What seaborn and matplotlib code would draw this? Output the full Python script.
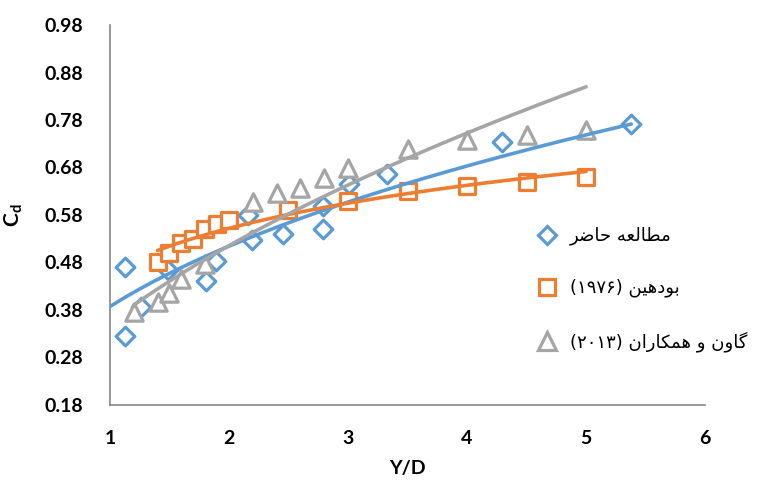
import numpy as np
import matplotlib
matplotlib.use("Agg")
import matplotlib.pyplot as plt
from matplotlib.lines import Line2D
import seaborn as sns

# ---------------- data ----------------
present_x = [1.13, 1.13, 1.26, 1.49, 1.81, 1.89, 2.16, 2.19, 2.45, 2.79, 2.79, 3.01, 3.33, 4.29, 5.38]
present_y = [0.470, 0.325, 0.386, 0.464, 0.441, 0.483, 0.580, 0.527, 0.540, 0.599, 0.550, 0.645, 0.666, 0.734, 0.772]

bodhaine_x = [1.4, 1.5, 1.6, 1.7, 1.8, 1.9, 2.0, 2.5, 3.0, 3.5, 4.0, 4.5, 5.0]
bodhaine_y = [0.48, 0.50, 0.52, 0.53, 0.55, 0.56, 0.57, 0.59, 0.61, 0.63, 0.64, 0.65, 0.66]

gaon_x = [1.2, 1.4, 1.5, 1.6, 1.8, 2.2, 2.4, 2.6, 2.8, 3.0, 3.5, 4.0, 4.5, 5.0]
gaon_y = [0.376, 0.397, 0.415, 0.445, 0.477, 0.608, 0.627, 0.636, 0.657, 0.678, 0.718, 0.738, 0.748, 0.759]

# trendline parameters
present_trend = ("power", 0.387, 0.41, 1.0, 5.38)   # y = a*x^b
bodhaine_trend = ("log", 0.4613, 0.1307, 1.4, 5.0)   # y = a + b*ln(x)
gaon_trend = ("power", 0.353, 0.546, 1.2, 5.0)

labels = ["مطالعه حاضر", "بودهین (۱۹۷۶)", "گاون و همکاران (۲۰۱۳)"]
x_ticks = [1, 2, 3, 4, 5, 6]
y_ticks = [0.18, 0.28, 0.38, 0.48, 0.58, 0.68, 0.78, 0.88, 0.98]

BLUE, ORANGE, GRAY = "#5B9BD5", "#ED7D31", "#A5A5A5"

# ---------------- minimal Persian shaping for matplotlib ----------------
FORMS = {
    'ا': ('\uFE8D', '\uFE8E', None, None),
    'ب': ('\uFE8F', '\uFE90', '\uFE91', '\uFE92'),
    'ح': ('\uFEA1', '\uFEA2', '\uFEA3', '\uFEA4'),
    'د': ('\uFEA9', '\uFEAA', None, None),
    'ر': ('\uFEAD', '\uFEAE', None, None),
    'ض': ('\uFEBD', '\uFEBE', '\uFEBF', '\uFEC0'),
    'ط': ('\uFEC1', '\uFEC2', '\uFEC3', '\uFEC4'),
    'ع': ('\uFEC9', '\uFECA', '\uFECB', '\uFECC'),
    'ل': ('\uFEDD', '\uFEDE', '\uFEDF', '\uFEE0'),
    'م': ('\uFEE1', '\uFEE2', '\uFEE3', '\uFEE4'),
    'ن': ('\uFEE5', '\uFEE6', '\uFEE7', '\uFEE8'),
    'ه': ('\uFEE9', '\uFEEA', '\uFEEB', '\uFEEC'),
    'و': ('\uFEED', '\uFEEE', None, None),
    'ی': ('\uFEF1', '\uFEF2', '\uFEF3', '\uFEF4'),
    'ک': ('\uFB8E', '\uFB8F', '\uFB90', '\uFB91'),
    'گ': ('\uFB92', '\uFB93', '\uFB94', '\uFB95'),
}


def shape_word(w):
    out = []
    for i, ch in enumerate(w):
        if ch not in FORMS:
            out.append(ch)
            continue
        prev = w[i - 1] if i > 0 else None
        nxt = w[i + 1] if i + 1 < len(w) else None
        jp = prev in FORMS and FORMS[prev][2] is not None
        jn = nxt in FORMS and FORMS[ch][2] is not None
        iso, fin, ini, med = FORMS[ch]
        if jp and jn:
            out.append(med)
        elif jp:
            out.append(fin)
        elif jn:
            out.append(ini)
        else:
            out.append(iso)
    return "".join(out)


def visual(text):
    toks = []
    for t in text.split(" "):
        if any(c in FORMS for c in t):
            toks.append(shape_word(t)[::-1])
        else:
            toks.append(t)
    return " ".join(toks[::-1])


def trend(params):
    kind, a, b, lo, hi = params
    xs = np.linspace(lo, hi, 200)
    ys = a * xs ** b if kind == "power" else a + b * np.log(xs)
    return xs, ys


# ---------------- figure ----------------
sns.set_theme(style="white")
plt.rcParams["font.family"] = ["Lato", "DejaVu Sans"]
plt.rcParams["mathtext.fontset"] = "custom"
plt.rcParams["mathtext.rm"] = "Lato"
plt.rcParams["mathtext.bf"] = "Lato:bold"
plt.rcParams["text.color"] = "black"
plt.rcParams["axes.labelcolor"] = "black"
plt.rcParams["xtick.color"] = "black"
plt.rcParams["ytick.color"] = "black"

fig, ax = plt.subplots(figsize=(7.74, 4.82), dpi=100)
fig.subplots_adjust(left=0.142, right=0.911, bottom=0.160, top=0.948)

series = [
    (present_x, present_y, "D", 9.5, BLUE, present_trend),
    (bodhaine_x, bodhaine_y, "s", 11.5, ORANGE, bodhaine_trend),
    (gaon_x, gaon_y, "^", 12.5, GRAY, gaon_trend),
]

handles = []
for xs, ys, mk, ms, col, tp in series:
    sns.scatterplot(x=xs, y=ys, marker=mk, s=ms ** 2, facecolor="white",
                    edgecolor=col, linewidth=2.3, ax=ax, zorder=3)
    handles.append(Line2D([], [], linestyle="none", marker=mk, markersize=ms,
                          markerfacecolor="white", markeredgecolor=col,
                          markeredgewidth=2.3))

for xs, ys, mk, ms, col, tp in series:
    tx, ty = trend(tp)
    sns.lineplot(x=tx, y=ty, color=col, linewidth=2.6, ax=ax, zorder=4,
                 legend=False)

ax.set_xlim(1, 6)
ax.set_ylim(0.18, 0.98)
ax.set_xticks(x_ticks)
ax.set_yticks(y_ticks)
ax.set_xticklabels([str(v) for v in x_ticks])
ax.set_yticklabels([f"{v:.2f}" for v in y_ticks])
for lab in ax.get_xticklabels() + ax.get_yticklabels():
    lab.set_fontweight("bold")
    lab.set_fontsize(14)
    lab.set_color("black")
ax.tick_params(axis="y", length=0, pad=19)
ax.tick_params(axis="x", length=0, pad=18)

for s in ["top", "right"]:
    ax.spines[s].set_visible(False)
for s in ["left", "bottom"]:
    ax.spines[s].set_color("#868686")
    ax.spines[s].set_linewidth(1.2)

ax.set_xlabel("Y/D", fontsize=14, fontweight="bold", color="black")
ax.xaxis.set_label_coords(0.5, -0.145)
ax.set_ylabel(r"$\mathbf{C_d}$", fontsize=15, color="black")
ax.yaxis.set_label_coords(-0.143, 0.5)

leg = ax.legend(handles, [visual(t) for t in labels],
                loc="center left", bbox_to_anchor=(0.697, 0.40),
                bbox_transform=fig.transFigure, frameon=False,
                prop={"family": ["DejaVu Sans"], "size": 13},
                handlelength=0.8, handletextpad=0.9, labelspacing=1.85,
                borderpad=0, borderaxespad=0)
for t in leg.get_texts():
    t.set_color("black")

fig.savefig("out.png", dpi=100)
